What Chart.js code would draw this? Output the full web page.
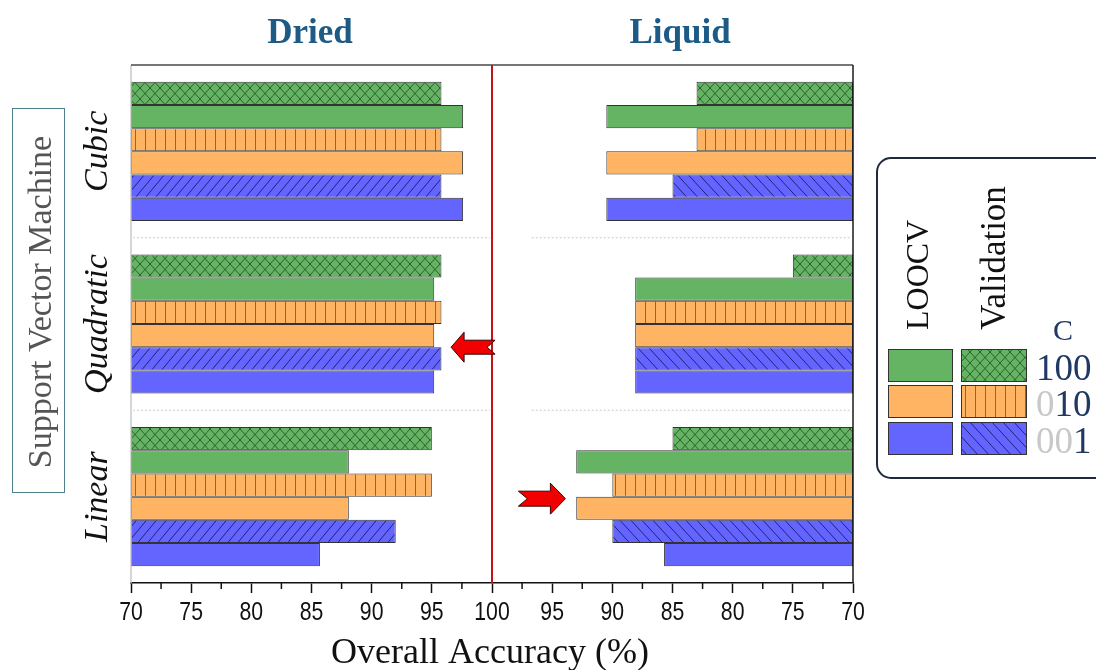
<!DOCTYPE html>
<html>
<head>
<meta charset="utf-8">
<title>SVM accuracy – dried vs liquid</title>
<script src="https://cdn.jsdelivr.net/npm/chart.js@4.4.1/dist/chart.umd.min.js"></script>
<style>
  html, body { margin: 0; padding: 0; background: #fff; }
  #wrap { position: relative; width: 1096px; height: 670px; overflow: hidden; }
  canvas { display: block; }
</style>
</head>
<body>
<div id="wrap"><canvas id="svm" width="1096" height="670"></canvas></div>
<script>
// ---- Data (overall accuracy, %) ----
const kernels = ['Cubic', 'Quadratic', 'Linear'];

// Dried samples: one value per kernel
const driedVal100 = [95.8, 95.8, 95.0];
const driedLoo100 = [97.6, 95.2, 88.1];
const driedVal010 = [95.8, 95.8, 95.0];
const driedLoo010 = [97.6, 95.2, 88.1];
const driedVal001 = [95.8, 95.8, 92.0];
const driedLoo001 = [97.6, 95.2, 85.7];

// Liquid samples: one value per kernel
const liquidVal100 = [83.0, 75.0, 85.0];
const liquidLoo100 = [90.5, 88.1, 93.0];
const liquidVal010 = [83.0, 88.1, 90.0];
const liquidLoo010 = [90.5, 88.1, 93.0];
const liquidVal001 = [85.0, 88.1, 90.0];
const liquidLoo001 = [90.5, 88.1, 85.7];

// Shared axis: left half runs 70 -> 100 (dried), right half mirrors back 100 -> 70 (liquid)
const tickLabels = ['70', '75', '80', '85', '90', '95', '100', '95', '90', '85', '80', '75', '70'];
const AXIS_MIN = 70;
const AXIS_MID = 100;
const mirror = v => 2 * AXIS_MID - v;

// ---- Styles ----
const GREEN = '#64b464', ORANGE = '#ffb464', BLUE = '#6464ff';
const SERIF = '"Liberation Serif", "Times New Roman", serif';
const SANS = '"Liberation Sans", Arial, sans-serif';
const NAVY = '#1f3864';

const canvas = document.getElementById('svm');
const ctx = canvas.getContext('2d');

function makePattern(base, ink, w, h, strokes) {
  const c = document.createElement('canvas');
  c.width = w; c.height = h;
  const g = c.getContext('2d');
  g.fillStyle = base;
  g.fillRect(0, 0, w, h);
  g.strokeStyle = ink;
  g.lineWidth = 1;
  g.beginPath();
  strokes.forEach(([x1, y1, x2, y2]) => {
    for (const dx of [-w, 0, w]) { g.moveTo(x1 + dx, y1); g.lineTo(x2 + dx, y2); }
  });
  g.stroke();
  return ctx.createPattern(c, 'repeat');
}

const crossFill = makePattern(GREEN, '#2e5f2e', 10, 11, [[0, 0, 10, 11], [10, 0, 0, 11]]);
const vertFill = makePattern(ORANGE, '#9a6428', 10, 10, [[5.5, 0, 5.5, 10]]);
const slashFill = makePattern(BLUE, '#22227a', 10, 12, [[0, 12, 10, 0]]);
const backslashFill = makePattern(BLUE, '#22227a', 11, 12, [[0, 0, 11, 12]]);

// top-to-bottom order inside each kernel group
const series = [
  { id: 'c100-val', dried: driedVal100, liquid: liquidVal100, fill: crossFill, fillLiquid: crossFill },
  { id: 'c100-loo', dried: driedLoo100, liquid: liquidLoo100, fill: GREEN, fillLiquid: GREEN },
  { id: 'c010-val', dried: driedVal010, liquid: liquidVal010, fill: vertFill, fillLiquid: vertFill },
  { id: 'c010-loo', dried: driedLoo010, liquid: liquidLoo010, fill: ORANGE, fillLiquid: ORANGE },
  { id: 'c001-val', dried: driedVal001, liquid: liquidVal001, fill: slashFill, fillLiquid: backslashFill },
  { id: 'c001-loo', dried: driedLoo001, liquid: liquidLoo001, fill: BLUE, fillLiquid: BLUE }
];

function barSet(label, data, fill, stack) {
  return {
    label, data, stack,
    backgroundColor: fill,
    borderColor: '#333',
    borderWidth: 1,
    borderSkipped: false,
    categoryPercentage: 0.806,
    barPercentage: 1.0
  };
}

const datasets = [];
series.forEach(s => {
  datasets.push(barSet('Dried ' + s.id, s.dried.map(v => [AXIS_MIN, v]), s.fill, s.id));
  datasets.push(barSet('Liquid ' + s.id, s.liquid.map(v => [mirror(AXIS_MIN), mirror(v)]), s.fillLiquid, s.id));
});

// ---- Drawing helpers ----
function line(c, x1, y1, x2, y2) {
  c.beginPath(); c.moveTo(x1, y1); c.lineTo(x2, y2); c.stroke();
}

function label(c, str, x, y, font, color, opts = {}) {
  c.save();
  c.translate(x, y);
  if (opts.rotate) c.rotate(opts.rotate);
  if (opts.scaleX) c.scale(opts.scaleX, 1);
  c.font = font;
  c.fillStyle = color;
  c.textAlign = opts.align || 'center';
  c.textBaseline = opts.baseline || 'alphabetic';
  c.fillText(str, 0, 0);
  c.restore();
}

function blockArrow(c, tipX, cy, dir, d) {
  const pts = [
    [0, 0], [d.head, -d.headHalf], [d.head, -d.shaftHalf], [d.len, -d.shaftHalf],
    [d.len - d.notch, 0], [d.len, d.shaftHalf], [d.head, d.shaftHalf], [d.head, d.headHalf]
  ];
  c.save();
  c.beginPath();
  pts.forEach(([ox, oy], i) => {
    const px = tipX - dir * ox;
    i ? c.lineTo(px, cy + oy) : c.moveTo(px, cy + oy);
  });
  c.closePath();
  c.fillStyle = '#f20000';
  c.fill();
  c.strokeStyle = '#3a0000';
  c.lineWidth = 1;
  c.stroke();
  c.restore();
}

function barTop(chart, datasetLabel, index) {
  const i = chart.data.datasets.findIndex(d => d.label === datasetLabel);
  const el = chart.getDatasetMeta(i).data[index];
  return el.y - el.height / 2;
}

const LIQUID_GRID_START = 103.3;

const overlay = {
  id: 'svmOverlay',
  beforeDatasetsDraw(chart) {
    const { ctx: c, chartArea: a, scales: { x, y } } = chart;
    c.save();
    c.strokeStyle = '#dcdcdc';
    c.lineWidth = 1.5;
    c.setLineDash([2, 2]);
    for (let i = 1; i < kernels.length; i++) {
      const yy = (y.getPixelForValue(i - 1) + y.getPixelForValue(i)) / 2;
      line(c, a.left + 2, yy, x.getPixelForValue(AXIS_MID) - 2, yy);
      line(c, x.getPixelForValue(LIQUID_GRID_START), yy, a.right - 2, yy);
    }
    c.restore();
  },
  afterDatasetsDraw(chart) {
    const { ctx: c, chartArea: a, scales: { x, y } } = chart;
    c.save();
    // frame
    c.lineWidth = 1.5;
    c.strokeStyle = '#c8c8c8';
    line(c, a.left, a.top, a.left, a.bottom);
    c.strokeStyle = '#4a4a4a';
    line(c, a.left, a.top, a.right, a.top);
    c.strokeStyle = '#1a1a1a';
    line(c, a.right, a.top, a.right, a.bottom);
    // divider at 100 %
    c.strokeStyle = '#c4121a';
    c.lineWidth = 2;
    line(c, x.getPixelForValue(AXIS_MID), a.top, x.getPixelForValue(AXIS_MID), a.bottom);
    c.restore();

    // arrows pointing at the highlighted bars
    blockArrow(c, x.getPixelForValue(96.6), barTop(chart, 'Dried c001-val', 1), -1,
      { head: 13, headHalf: 15, shaftHalf: 7, len: 44, notch: 8 });
    blockArrow(c, x.getPixelForValue(mirror(93.9)), barTop(chart, 'Liquid c010-loo', 2) + 2, 1,
      { head: 15, headHalf: 15.5, shaftHalf: 7.5, len: 47, notch: 9 });
  },
  afterDraw(chart) {
    const { ctx: c, chartArea: a, scales: { x, y } } = chart;

    // minor ticks between the labelled ones
    c.save();
    c.strokeStyle = '#111';
    c.lineWidth = 1.5;
    for (let v = AXIS_MIN + 2.5; v < x.max; v += 5) {
      const px = x.getPixelForValue(v);
      line(c, px, a.bottom, px, a.bottom + 6);
    }
    c.restore();

    // tick labels (narrow sans)
    x.ticks.forEach((t, i) => {
      label(c, tickLabels[i], x.getPixelForValue(t.value), 620, '25px ' + SANS, '#111', { scaleX: 0.85 });
    });

    // axis title and panel titles
    label(c, 'Overall Accuracy (%)', 490, 663, '36px ' + SERIF, '#111');
    label(c, 'Dried', 310, 43, 'bold 35px ' + SERIF, '#1d5b86');
    label(c, 'Liquid', 680, 43, 'bold 35px ' + SERIF, '#1d5b86');

    // kernel names
    kernels.forEach((k, i) => {
      label(c, k, 107, y.getPixelForValue(i), 'italic 34px ' + SERIF, '#111',
        { rotate: -Math.PI / 2 });
    });

    // method box
    c.save();
    c.strokeStyle = '#4f7f8f';
    c.lineWidth = 1;
    c.strokeRect(12.5, 108.5, 52, 384);
    c.restore();
    label(c, 'Support Vector Machine', 51, 302, '34px ' + SERIF, '#555', { rotate: -Math.PI / 2 });

    // legend
    c.save();
    c.strokeStyle = '#1f2a3c';
    c.lineWidth = 2;
    const lx = 877, ly = 158, lw = 240, lh = 320, r = 14;
    c.beginPath();
    c.moveTo(lx + r, ly);
    c.lineTo(lx + lw - r, ly);
    c.arcTo(lx + lw, ly, lx + lw, ly + r, r);
    c.lineTo(lx + lw, ly + lh - r);
    c.arcTo(lx + lw, ly + lh, lx + lw - r, ly + lh, r);
    c.lineTo(lx + r, ly + lh);
    c.arcTo(lx, ly + lh, lx, ly + lh - r, r);
    c.lineTo(lx, ly + r);
    c.arcTo(lx, ly, lx + r, ly, r);
    c.stroke();
    c.restore();

    label(c, 'LOOCV', 928, 330, '32px ' + SERIF, '#111', { rotate: -Math.PI / 2, align: 'left' });
    label(c, 'Validation', 1005, 330, '35px ' + SERIF, '#111', { rotate: -Math.PI / 2, align: 'left' });
    label(c, 'C', 1063, 340, '30px ' + SERIF, NAVY);

    const rows = [
      { loo: GREEN, val: crossFill, y: 349, parts: [['100', NAVY]] },
      { loo: ORANGE, val: vertFill, y: 385, parts: [['0', '#c8c8c8'], ['10', NAVY]] },
      { loo: BLUE, val: backslashFill, y: 422, parts: [['00', '#c8c8c8'], ['1', NAVY]] }
    ];
    rows.forEach(rw => {
      c.save();
      c.strokeStyle = '#333';
      c.lineWidth = 1;
      c.fillStyle = rw.loo;
      c.fillRect(888, rw.y, 65, 33);
      c.strokeRect(888.5, rw.y + 0.5, 64, 32);
      c.fillStyle = rw.val;
      c.fillRect(961, rw.y, 66, 33);
      c.strokeRect(961.5, rw.y + 0.5, 65, 32);
      c.font = '37px ' + SERIF;
      c.textBaseline = 'alphabetic';
      let tx = 1036;
      rw.parts.forEach(([s, col]) => {
        c.fillStyle = col;
        c.fillText(s, tx, rw.y + 31);
        tx += c.measureText(s).width;
      });
      c.restore();
    });
  }
};

new Chart(ctx, {
  type: 'bar',
  data: { labels: kernels, datasets },
  options: {
    indexAxis: 'y',
    responsive: false,
    animation: false,
    layout: { padding: { left: 131, right: 243, top: 65, bottom: 77 } },
    scales: {
      y: { type: 'category', stacked: true, display: false },
      x: {
        type: 'linear',
        stacked: false,
        min: AXIS_MIN,
        max: mirror(AXIS_MIN),
        ticks: { stepSize: 5, display: false },
        grid: { drawOnChartArea: false, drawTicks: true, tickLength: 10, tickColor: '#111', tickWidth: 1.5 },
        border: { color: '#111', width: 1.5 }
      }
    },
    plugins: {
      legend: { display: false },
      tooltip: { enabled: false }
    }
  },
  plugins: [overlay]
});
</script>
</body>
</html>
